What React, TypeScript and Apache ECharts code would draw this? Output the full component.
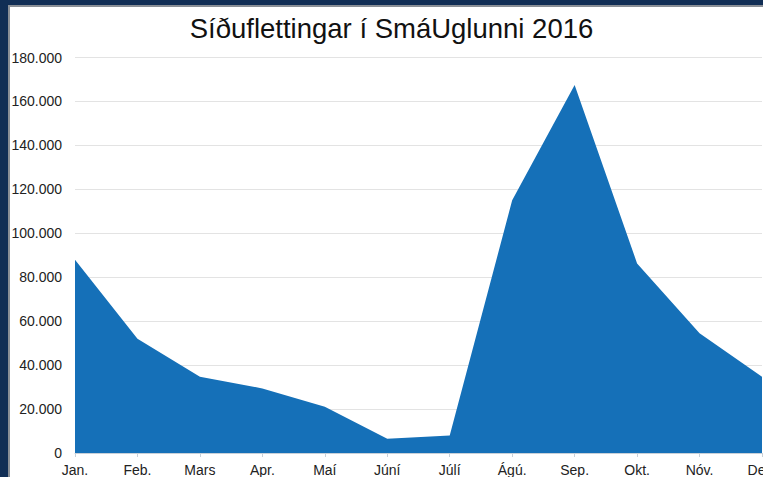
import React, { useEffect, useRef } from "react";
import * as echarts from "echarts";

const titleText = "Síðuflettingar í SmáUglunni 2016";
const months = ["Jan.", "Feb.", "Mars", "Apr.", "Maí", "Júní", "Júlí", "Ágú.", "Sep.", "Okt.", "Nóv.", "Des."];
const pageViews = [88000, 52000, 34700, 29400, 21000, 6500, 8000, 115000, 167500, 86300, 54500, 34700];

const FONT = "'Liberation Sans', Arial, Helvetica, sans-serif";

function fmt(v: number): string {
  return String(Math.round(v)).replace(/\B(?=(\d{3})+(?!\d))/g, ".");
}

export default function App() {
  const ref = useRef<HTMLDivElement>(null);
  useEffect(() => {
    document.body.style.margin = "0";
    document.body.style.overflow = "hidden";
    const chart = echarts.init(ref.current!, null, { renderer: "svg" });
    chart.setOption({
      animation: false,
      backgroundColor: "#ffffff",
      graphic: [
        { type: "rect", shape: { x: 0, y: 0, width: 763, height: 7 }, style: { fill: "#8a8f96" }, z: 100 },
        { type: "rect", shape: { x: 0, y: 0, width: 10, height: 477 }, style: { fill: "#8a8f96" }, z: 100 },
        { type: "rect", shape: { x: 0, y: 0, width: 763, height: 5 }, style: { fill: "#112e55" }, z: 101 },
        { type: "rect", shape: { x: 0, y: 0, width: 8, height: 477 }, style: { fill: "#112e55" }, z: 101 },
        {
          type: "text",
          x: 391.5,
          y: 28,
          z: 100,
          style: {
            text: titleText,
            fontSize: 27.5,
            fontFamily: FONT,
            fill: "#111111",
            align: "center",
            verticalAlign: "middle",
          },
        },
      ],
      grid: { left: 75, right: 1, top: 57.5, bottom: 24, containLabel: false, outerBoundsMode: "none" },
      xAxis: {
        type: "category",
        data: months,
        boundaryGap: false,
        axisLine: { lineStyle: { color: "#c8d0d8", width: 1 } },
        axisTick: { show: true, length: 4, lineStyle: { color: "#c8d0d8" } },
        axisLabel: { color: "#222222", fontSize: 14, fontFamily: FONT, margin: 10, hideOverlap: false },
        splitLine: { show: false },
      },
      yAxis: {
        type: "value",
        min: 0,
        max: 180000,
        interval: 20000,
        axisLine: { show: false },
        axisTick: { show: false },
        axisLabel: { color: "#222222", fontSize: 14, fontFamily: FONT, margin: 13, formatter: (v: number) => fmt(v) },
        splitLine: { lineStyle: { color: "#e3e3e3", width: 1 } },
      },
      series: [
        {
          type: "line",
          data: pageViews,
          symbol: "none",
          lineStyle: { width: 0, color: "#1570b8" },
          itemStyle: { color: "#1570b8" },
          areaStyle: { color: "#1570b8", opacity: 1 },
        },
      ],
    });
    return () => chart.dispose();
  }, []);
  return <div ref={ref} style={{ width: 763, height: 477 }} />;
}
